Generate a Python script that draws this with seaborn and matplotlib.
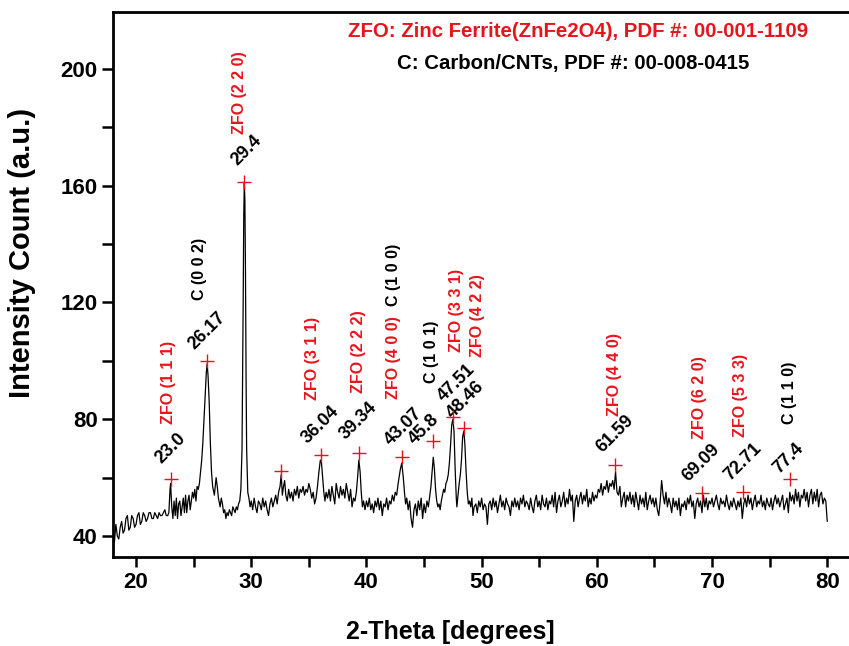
import matplotlib
matplotlib.use("Agg")
import matplotlib.pyplot as plt
import seaborn as sns
import pandas as pd
from matplotlib.ticker import MultipleLocator

# ---------------- data ----------------
theta = [
    18.0, 18.125, 18.25, 18.375, 18.5, 18.625, 18.75, 18.875,
    19.0, 19.125, 19.25, 19.375, 19.5, 19.625, 19.75, 19.875,
    20.0, 20.125, 20.25, 20.375, 20.5, 20.625, 20.75, 20.875,
    21.0, 21.125, 21.25, 21.375, 21.5, 21.625, 21.75, 21.875,
    22.0, 22.125, 22.25, 22.375, 22.5, 22.625, 22.75,
    22.85, 22.95, 23.0, 23.1, 23.2, 23.3, 23.4, 23.5, 23.6, 23.7, 23.8, 23.9,
    24.0, 24.1, 24.2, 24.3, 24.4, 24.5, 24.6, 24.7, 24.8, 24.9,
    25.0, 25.1, 25.2, 25.3, 25.4, 25.5, 25.6, 25.7, 25.8, 25.9,
    26.0, 26.1, 26.17, 26.25, 26.35, 26.45, 26.55, 26.65, 26.8, 26.95,
    27.05, 27.15, 27.3, 27.4, 27.5, 27.6, 27.7, 27.8, 27.9,
    28.0, 28.1, 28.2, 28.3, 28.4, 28.5, 28.6, 28.7, 28.8, 28.9,
    29.0, 29.1, 29.2, 29.3, 29.35, 29.4, 29.45, 29.5, 29.55, 29.6, 29.7, 29.8, 29.9,
    30.0, 30.125, 30.25, 30.375, 30.5, 30.625, 30.75, 30.875,
    31.0, 31.125, 31.25, 31.375, 31.5, 31.625, 31.75, 31.875,
    32.0, 32.125, 32.25, 32.375, 32.5, 32.6, 32.7, 32.8, 32.9,
    33.0, 33.125, 33.25, 33.375, 33.5, 33.625, 33.75, 33.875,
    34.0, 34.125, 34.25, 34.375, 34.5, 34.625, 34.75, 34.875,
    35.0, 35.125, 35.25, 35.375, 35.5, 35.625, 35.75, 35.875,
    36.0, 36.1, 36.2, 36.3, 36.4, 36.5, 36.625, 36.75, 36.875,
    37.0, 37.125, 37.25, 37.375, 37.5, 37.625, 37.75, 37.875,
    38.0, 38.125, 38.25, 38.375, 38.5, 38.625, 38.75, 38.875,
    39.0, 39.125, 39.25, 39.34, 39.45, 39.55, 39.65, 39.75, 39.875,
    40.0, 40.125, 40.25, 40.375, 40.5, 40.625, 40.75, 40.875,
    41.0, 41.125, 41.25, 41.375, 41.5, 41.625, 41.75, 41.875,
    42.0, 42.125, 42.25, 42.375, 42.5, 42.625, 42.75, 42.875, 42.95,
    43.07, 43.2, 43.3, 43.4, 43.5, 43.625, 43.75, 43.875,
    44.0, 44.125, 44.25, 44.375, 44.5, 44.625, 44.75, 44.875,
    45.0, 45.125, 45.25, 45.375, 45.5, 45.6, 45.7, 45.8, 45.9,
    46.0, 46.1, 46.2, 46.3, 46.4, 46.5, 46.6, 46.7, 46.8, 46.9,
    47.0, 47.1, 47.2, 47.3, 47.4, 47.5, 47.6, 47.7, 47.8, 47.85, 47.95,
    48.05, 48.15, 48.25, 48.35, 48.46, 48.55, 48.65, 48.75, 48.85, 48.95,
    49.05, 49.15, 49.25, 49.35, 49.5, 49.625, 49.75, 49.875,
    50.0, 50.125, 50.25, 50.375, 50.5, 50.625, 50.75, 50.875,
    51.0, 51.125, 51.25, 51.375, 51.5, 51.625, 51.75, 51.875,
    52.0, 52.125, 52.25, 52.375, 52.5, 52.625, 52.75, 52.875,
    53.0, 53.125, 53.25, 53.375, 53.5, 53.625, 53.75, 53.875,
    54.0, 54.125, 54.25, 54.375, 54.5, 54.625, 54.75, 54.875,
    55.0, 55.125, 55.25, 55.375, 55.5, 55.625, 55.75, 55.875,
    56.0, 56.125, 56.25, 56.375, 56.5, 56.625, 56.75, 56.875,
    57.0, 57.125, 57.25, 57.375, 57.5, 57.625, 57.75, 57.875,
    58.0, 58.125, 58.25, 58.375, 58.5, 58.625, 58.75, 58.875,
    59.0, 59.125, 59.25, 59.375, 59.5, 59.625, 59.75, 59.875,
    60.0, 60.125, 60.25, 60.375, 60.5, 60.625, 60.75, 60.875,
    61.0, 61.125, 61.25, 61.375, 61.5, 61.625, 61.75, 61.875,
    62.0, 62.125, 62.25, 62.375, 62.5, 62.625, 62.75, 62.875,
    63.0, 63.125, 63.25, 63.375, 63.5, 63.625, 63.75, 63.875,
    64.0, 64.125, 64.25, 64.375, 64.5, 64.625, 64.75, 64.875,
    65.0, 65.125, 65.25, 65.375, 65.5, 65.625, 65.75, 65.875,
    66.0, 66.125, 66.25, 66.375, 66.5, 66.625, 66.75, 66.875,
    67.0, 67.125, 67.25, 67.375, 67.5, 67.625, 67.75, 67.875,
    68.0, 68.125, 68.25, 68.375, 68.5, 68.625, 68.75, 68.875,
    69.0, 69.125, 69.25, 69.375, 69.5, 69.625, 69.75, 69.875,
    70.0, 70.125, 70.25, 70.375, 70.5, 70.625, 70.75, 70.875,
    71.0, 71.125, 71.25, 71.375, 71.5, 71.625, 71.75, 71.875,
    72.0, 72.125, 72.25, 72.375, 72.5, 72.625, 72.75, 72.875,
    73.0, 73.125, 73.25, 73.375, 73.5, 73.625, 73.75, 73.875,
    74.0, 74.125, 74.25, 74.375, 74.5, 74.625, 74.75, 74.875,
    75.0, 75.125, 75.25, 75.375, 75.5, 75.625, 75.75, 75.875,
    76.0, 76.125, 76.25, 76.375, 76.5, 76.625, 76.75, 76.875,
    77.0, 77.125, 77.25, 77.375, 77.5, 77.625, 77.75, 77.875,
    78.0, 78.125, 78.25, 78.375, 78.5, 78.625, 78.75, 78.875,
    79.0, 79.125, 79.25, 79.375, 79.5, 79.625, 79.75, 79.875,
    80.0,
]
intensity = [
    41, 38, 44, 40, 39, 43, 45, 41,
    42, 46, 47, 42, 43, 47, 46, 43,
    44, 47, 48, 44, 45, 48, 47, 45,
    46, 48, 48, 46, 46, 48, 47, 46,
    48, 47, 47, 48, 49, 47, 47,
    48, 56, 58, 50, 46, 52, 47, 53, 46, 51, 52, 47,
    50, 53, 48, 54, 48, 52, 54, 49, 52, 55,
    53, 56, 52, 57, 56, 58, 62, 66, 72, 80,
    88, 96, 99, 95, 86, 72, 62, 57, 54, 60,
    57, 53, 50, 53, 51, 48, 49, 46, 48,
    47, 49, 48, 47, 50, 49, 48, 50, 49, 51,
    52, 56, 70, 120, 150, 161, 155, 130, 95, 70, 55, 53, 50,
    52, 49, 53, 50, 48, 52, 51, 49,
    53, 50, 52, 49, 47, 51, 53, 50,
    52, 54, 51, 55, 57, 61, 54, 57, 59,
    54, 52, 56, 53, 55, 52, 56, 54,
    57, 53, 56, 55, 57, 54, 56, 55,
    58, 56, 53, 55, 51, 53, 57, 62,
    66, 65, 60, 55, 52, 55, 53, 56, 52,
    57, 54, 51, 58, 55, 53, 57, 54,
    56, 53, 58, 55, 52, 56, 50, 53,
    52, 55, 61, 66, 62, 55, 50, 52, 49,
    52, 50, 53, 49, 51, 48, 52, 50,
    53, 49, 52, 47, 51, 50, 53, 49,
    52, 51, 54, 52, 55, 54, 58, 61, 63,
    65, 60, 55, 51, 53, 49, 52, 46,
    43, 49, 51, 47, 52, 49, 53, 46,
    51, 48, 52, 50, 54, 57, 62, 67, 63,
    56, 52, 50, 51, 49, 52, 54, 56, 55, 58,
    59, 61, 65, 71, 78, 80, 76, 63, 53, 50, 54,
    58, 61, 66, 74, 76, 71, 62, 55, 51, 52,
    50, 53, 47, 50, 51, 48, 52, 50,
    53, 49, 51, 50, 44, 51, 52, 49,
    53, 50, 52, 48, 51, 54, 50, 52,
    49, 53, 51, 50, 47, 52, 50, 53,
    50, 52, 49, 53, 51, 54, 50, 52,
    51, 49, 53, 50, 48, 52, 54, 50,
    52, 49, 54, 51, 50, 53, 49, 52,
    51, 54, 50, 55, 48, 52, 54, 50,
    52, 55, 50, 53, 51, 56, 52, 54,
    45, 52, 54, 50, 53, 55, 51, 54,
    52, 56, 50, 53, 51, 55, 52, 54,
    53, 56, 55, 58, 54, 57, 56, 59,
    55, 58, 57, 59, 56, 62, 55, 54,
    57, 50, 53, 55, 50, 54, 52, 55,
    51, 54, 50, 55, 52, 49, 54, 51,
    53, 50, 55, 49, 52, 54, 51, 53,
    50, 53, 49, 47, 52, 59, 54, 51,
    55, 50, 53, 51, 48, 53, 50, 52,
    49, 53, 47, 51, 50, 52, 49, 53,
    51, 54, 50, 52, 46, 51, 53, 50,
    52, 48, 54, 50, 53, 49, 52, 51,
    53, 50, 52, 54, 51, 49, 53, 51,
    52, 50, 54, 51, 49, 52, 50, 53,
    51, 49, 52, 50, 53, 46, 51, 53,
    50, 54, 51, 53, 49, 52, 54, 50,
    52, 51, 54, 50, 52, 49, 53, 51,
    50, 53, 49, 52, 54, 51, 53, 50,
    52, 54, 49, 51, 53, 48, 55, 52,
    54, 51, 56, 52, 55, 50, 54, 53,
    56, 52, 55, 50, 54, 56, 51, 55,
    52, 56, 50, 54, 55, 51, 53, 52,
    45,
]

# marked reflections: marker position, value label, hkl label(s)
peak_theta = [23.0, 26.17, 29.4, 32.6, 36.04, 39.34, 43.07, 45.8, 47.51, 48.46,
              61.59, 69.09, 72.71, 76.75]
peak_intensity = [59.5, 99.8, 161.4, 62.2, 67.7, 68.4, 67.0, 72.5, 80.7, 76.9,
                  64.3, 54.7, 55.0, 59.5]
peak_text = ["23.0", "26.17", "29.4", "", "36.04", "39.34", "43.07", "45.8",
             "47.51", "48.46", "61.59", "69.09", "72.71", "77.4"]
hkl_text = [["ZFO (1 1 1)"], ["C (0 0 2)"], ["ZFO (2 2 0)"], [], ["ZFO (3 1 1)"],
            ["ZFO (2 2 2)"], ["ZFO (4 0 0)", "C (1 0 0)"], ["C (1 0 1)"],
            ["ZFO (3 3 1)"], ["ZFO (4 2 2)"], ["ZFO (4 4 0)"], ["ZFO (6 2 0)"],
            ["ZFO (5 3 3)"], ["C (1 1 0)"]]

title_lines = ["ZFO: Zinc Ferrite(ZnFe2O4), PDF #: 00-001-1109",
               "C: Carbon/CNTs, PDF #: 00-008-0415"]
x_ticks = [20, 30, 40, 50, 60, 70, 80]
y_ticks = [40, 80, 120, 160, 200]

# ---------------- layout / style ----------------
# offsets (pixels) of value labels and hkl labels from each marker
num_off = [(0, 31), (0, 31), (2, 31), None, (0, 30), (0, 32), (2, 30), (-9, 12),
           (4, 34), (2, 28), (0, 31), (0, 30), (0, 30), (-1, 21)]
hkl_off = [[(-2, 97)], [(-8, 93)], [(-5, 89)], [], [(-8, 97)], [(0, 101)],
           [(-8, 100), (-8, 182)], [(-2, 89)], [(4, 107)], [(14, 113)],
           [(-1, 91)], [(-2, 96)], [(-3, 97)], [(0, 86)]]
RED = "#e8141c"
PX = 0.72  # points per pixel at dpi 100

sns.set_style("ticks")
plt.rcParams["font.family"] = ["Liberation Sans", "DejaVu Sans"]
plt.rcParams["font.weight"] = "bold"
for k in ["text.color", "axes.labelcolor", "xtick.color", "ytick.color",
          "axes.edgecolor"]:
    plt.rcParams[k] = "black"

fig = plt.figure(figsize=(8.49, 6.46), dpi=100)
ax = fig.add_axes([113 / 849, 1 - 557 / 646, 736 / 849, 545 / 646])

df = pd.DataFrame({"theta": theta, "intensity": intensity})
sns.lineplot(data=df, x="theta", y="intensity", ax=ax, color="black",
             linewidth=0.9, sort=False, estimator=None)

pk = pd.DataFrame({"theta": peak_theta, "intensity": peak_intensity})
sns.scatterplot(data=pk, x="theta", y="intensity", ax=ax, marker="+",
                color=RED, s=110, linewidth=1.0, zorder=5)

for i, (px_, py_) in enumerate(zip(peak_theta, peak_intensity)):
    if peak_text[i]:
        dx, dy = num_off[i]
        ax.annotate(peak_text[i], (px_, py_), xytext=(dx * PX, dy * PX),
                    textcoords="offset points", ha="center", va="center",
                    rotation=45, fontsize=13, fontweight="bold", color="black")
    for txt, (dx, dy) in zip(hkl_text[i], hkl_off[i]):
        col = RED if txt.startswith("ZFO") else "black"
        ax.annotate(txt, (px_, py_), xytext=(dx * PX, dy * PX),
                    textcoords="offset points", ha="center", va="center",
                    rotation=90, fontsize=11.5, fontweight="bold", color=col)

ax.text(0.632, 0.965, title_lines[0], transform=ax.transAxes, ha="center",
        va="center", fontsize=14.7, fontweight="bold", color=RED)
ax.text(0.625, 0.905, title_lines[1], transform=ax.transAxes, ha="center",
        va="center", fontsize=14.7, fontweight="bold", color="black")

ax.set_xlim(18, 18 + 736 / 11.52)
ax.set_ylim(40 - 21 / 2.925, 200 + 57 / 2.925)
ax.set_xticks(x_ticks)
ax.set_yticks(y_ticks)
ax.xaxis.set_minor_locator(MultipleLocator(5))
ax.yaxis.set_minor_locator(MultipleLocator(20))
ax.tick_params(which="both", direction="out", length=7, width=1.8,
               top=False, right=False, colors="black")
ax.tick_params(axis="y", which="both", length=8)
ax.tick_params(axis="x", which="major", labelsize=16, pad=4)
ax.tick_params(axis="y", which="major", labelsize=16, pad=3)
for lab in ax.get_xticklabels() + ax.get_yticklabels():
    lab.set_fontweight("bold")

for side in ["left", "bottom", "top"]:
    ax.spines[side].set_linewidth(2.0)
    ax.spines[side].set_color("black")
ax.spines["right"].set_visible(False)

ax.set_xlabel("2-Theta [degrees]", fontsize=18, fontweight="bold")
ax.set_ylabel("Intensity Count (a.u.)", fontsize=21, fontweight="bold")
ax.xaxis.set_label_coords(0.458, -0.115)
ax.yaxis.set_label_coords(-0.105, 0.558)

fig.savefig("out.png", dpi=100)
